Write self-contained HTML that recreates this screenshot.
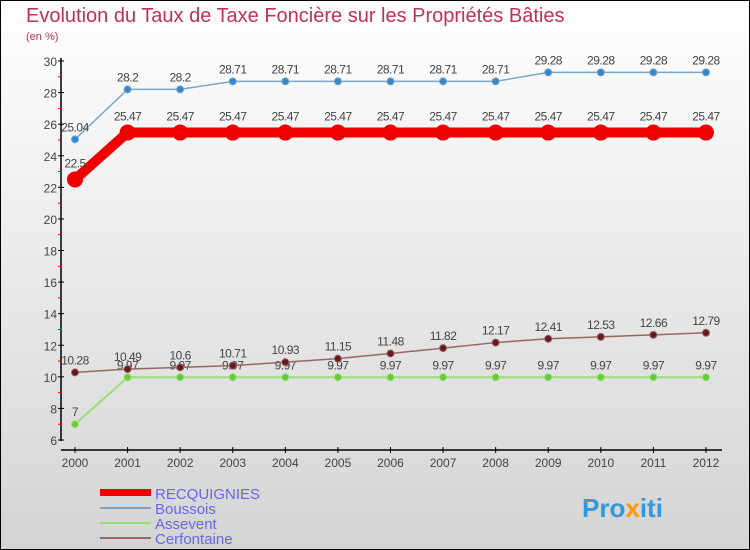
<!DOCTYPE html>
<html><head><meta charset="utf-8"><style>
body{margin:0;width:750px;height:550px;overflow:hidden}
svg{display:block;font-family:"Liberation Sans",sans-serif}
</style></head><body>
<svg id="c" width="750" height="550">
<defs><linearGradient id="bg" x1="0" y1="0" x2="0" y2="1"><stop offset="0" stop-color="#ffffff"/><stop offset="1" stop-color="#d4d4d4"/></linearGradient></defs>
<rect x="0.5" y="0.5" width="749" height="549" fill="url(#bg)" stroke="#000"/>
<text x="26" y="22" font-size="20" fill="#c0305a">Evolution du Taux de Taxe Foncière sur les Propriétés Bâties</text>
<text x="26" y="40" font-size="11" fill="#c0305a">(en %)</text>
<g id="axes"></g><g id="series"></g>
<g>
<rect x="100" y="489" width="51" height="7" fill="#e00"/>
<text x="155" y="499" font-size="15" fill="#6666ee">RECQUIGNIES</text>
<line x1="100" y1="508" x2="151" y2="508" stroke="#7aa7c7" stroke-width="2"/>
<text x="155" y="514" font-size="15" fill="#6666ee">Boussois</text>
<line x1="100" y1="523" x2="151" y2="523" stroke="#99dd77" stroke-width="2"/>
<text x="155" y="529" font-size="15" fill="#6666ee">Assevent</text>
<line x1="100" y1="538" x2="151" y2="538" stroke="#996666" stroke-width="2"/>
<text x="155" y="544" font-size="15" fill="#6666ee">Cerfontaine</text>
</g>
<text x="582" y="517" font-size="26" font-weight="bold" fill="#3399dd">Pro<tspan fill="#ff9900">x</tspan>iti</text>
</svg>
<script>
const years=[2000,2001,2002,2003,2004,2005,2006,2007,2008,2009,2010,2011,2012];
const recquignies=[22.5,25.47,25.47,25.47,25.47,25.47,25.47,25.47,25.47,25.47,25.47,25.47,25.47];
const boussois=[25.04,28.2,28.2,28.71,28.71,28.71,28.71,28.71,28.71,29.28,29.28,29.28,29.28];
const assevent=[7,9.97,9.97,9.97,9.97,9.97,9.97,9.97,9.97,9.97,9.97,9.97,9.97];
const cerfontaine=[10.28,10.49,10.6,10.71,10.93,11.15,11.48,11.82,12.17,12.41,12.53,12.66,12.79];
const yTicks=[6,8,10,12,14,16,18,20,22,24,26,28,30];
const NS="http://www.w3.org/2000/svg";
const xs=i=>75+i*52.58;
const ys=v=>440-(v-6)*(379/24);
function mk(t,a,p){const e=document.createElementNS(NS,t);for(const k in a)e.setAttribute(k,a[k]);p.appendChild(e);return e;}
const ax=document.getElementById('axes');
let l=mk('line',{x1:61,y1:58,x2:61,y2:441,stroke:'#000','stroke-width':1.5},ax);


l=mk('line',{x1:61,y1:450,x2:722,y2:450,stroke:'#000','stroke-width':1.5},ax);


yTicks.forEach(v=>{
 const y=ys(v);
 mk('line',{x1:58,y1:y,x2:64,y2:y,stroke:'#000'},ax);
 if(v<30) mk('line',{x1:58,y1:ys(v+1),x2:61,y2:ys(v+1),stroke:'#e00'},ax);
 const t=mk('text',{x:57,y:y+5,'font-size':12,'text-anchor':'end',fill:'#444'},ax);
 t.textContent=v;
 
 
});
years.forEach((yr,i)=>{
 mk('line',{x1:xs(i),y1:447,x2:xs(i),y2:453,stroke:'#000'},ax);
 const t=mk('text',{x:xs(i),y:467,'font-size':12,'text-anchor':'middle',fill:'#444'},ax);
 t.textContent=yr;
 
 
});
const sg=document.getElementById('series');
function draw(name,vals,col,dot,w,r){
 const g=mk('g',{},sg);
 
 
 mk('polyline',{points:vals.map((v,i)=>xs(i)+','+ys(v)).join(' '),fill:'none',stroke:col,'stroke-width':w,'stroke-linejoin':'round'},g);
 vals.forEach((v,i)=>{
  const c=mk('circle',{cx:xs(i),cy:ys(v),r:r,fill:dot,stroke:col,'stroke-width':1},g);
  
  
  const t=mk('text',{x:xs(i),y:ys(v)-8-(r>4?4:0),'font-size':12,'text-anchor':'middle',fill:'#444','letter-spacing':'-0.5'},g);
  t.textContent=v;
  
  
 });
}
draw('assevent',assevent,'#99dd77','#66cc33',2,3.5);
draw('cerfontaine',cerfontaine,'#996666','#661a1a',1.5,3.5);
draw('boussois',boussois,'#7aa7c7','#3388cc',1.5,3.5);
draw('recquignies',recquignies,'#ee0000','#ee0000',10,7.5);
</script>
</body></html>
